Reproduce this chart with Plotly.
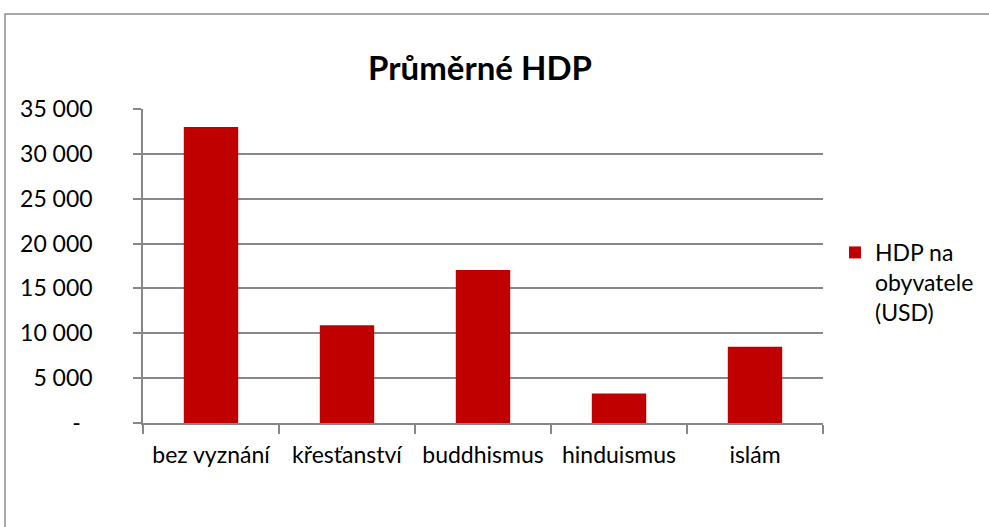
import plotly.graph_objects as go

categories = ["bez vyznání", "křesťanství", "buddhismus", "hinduismus", "islám"]
hdp_values = [33000, 10900, 17050, 3300, 8500]
series_name = "HDP na<br>obyvatele<br>(USD)"
y_tickvals = [0, 5000, 10000, 15000, 20000, 25000, 30000, 35000]
y_ticktext = ["-\u00a0\u00a0", "5 000", "10 000", "15 000", "20 000", "25 000", "30 000", "35 000"]

FONT = "Lato"
GRAY = "#878787"
RED = "#C00000"

fig = go.Figure()
fig.add_trace(go.Bar(
    x=categories, y=hdp_values, name=series_name,
    marker=dict(color=RED, line=dict(width=0)),
    showlegend=True,
))

W, H = 989, 527
L, R, T, B = 143, 166, 109, 104
pw, ph = W - L - R, H - T - B

fig.update_layout(
    width=W, height=H,
    margin=dict(l=L, r=R, t=T, b=B, autoexpand=False),
    paper_bgcolor="white", plot_bgcolor="white",
    font=dict(family=FONT, size=22, color="black"),
    bargap=0.6,
    title=dict(text="<b>Průměrné HDP</b>", font=dict(family=FONT, size=33, color="black"),
               xref="paper", x=(480 - L) / pw, xanchor="center",
               yref="container", y=1 - 68 / H, yanchor="middle"),
    xaxis=dict(showline=True, linecolor=GRAY, linewidth=1.5,
               ticks="outside", tickson="boundaries", ticklen=9, tickcolor=GRAY, tickwidth=1.5,
               showgrid=False, tickfont=dict(family=FONT, size=23), tickangle=0,
               ticklabelstandoff=11),
    yaxis=dict(range=[0, 35000], tickvals=y_tickvals, ticktext=y_ticktext,
               showline=True, linecolor=GRAY, linewidth=1.5,
               ticks="outside", ticklen=8, tickcolor=GRAY, tickwidth=1.5,
               showgrid=True, gridcolor=GRAY, gridwidth=1.5, zeroline=False,
               tickfont=dict(family=FONT, size=23), ticklabelstandoff=36),
    legend=dict(x=(835 - L) / pw, xanchor="left", y=(H - B - 231) / ph, yanchor="top",
                valign="top", font=dict(family=FONT, size=23), bgcolor="rgba(0,0,0,0)",
                itemwidth=30, tracegroupgap=0),
    shapes=[dict(type="rect", xref="paper", yref="paper",
                 x0=(5 - L) / pw, x1=2, y0=-2, y1=(H - B - 14) / ph,
                 line=dict(color="#8c8c8c", width=1.5), fillcolor="rgba(0,0,0,0)", layer="below")],
)

fig.write_html("out.html", config={"displayModeBar": False},
               post_script="document.body.style.margin='0';")
